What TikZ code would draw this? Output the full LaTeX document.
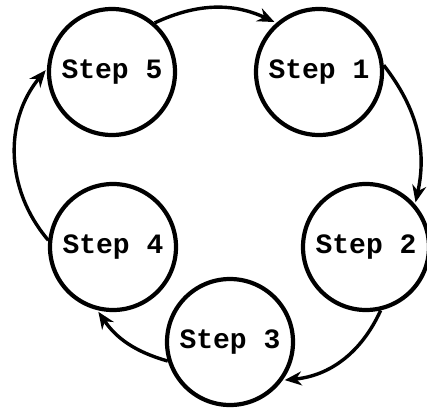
\documentclass[tikz,border=0pt]{standalone}
\usepackage{fontspec}
\setmonofont{Liberation Mono}
\usetikzlibrary{arrows.meta}
\tikzstyle{stepnode}=[circle, draw, line width=4.2pt, minimum size=126pt, inner sep=0pt, font=\fontsize{28}{30}\selectfont\ttfamily\bfseries]
\tikzset{flow/.style={line width=3.4pt, -{Stealth[length=17pt,width=14pt]}, shorten >=2pt}}

\begin{document}
\begin{tikzpicture}[x=1pt, y=1pt]
    \useasboundingbox (0,0) rectangle (427,408);
    \node[stepnode] (step5) at (112,336) {Step 5};
    \node[stepnode] (step1) at (319,336) {Step 1};
    \node[stepnode] (step2) at (366,161) {Step 2};
    \node[stepnode] (step3) at (230,66) {Step 3};
    \node[stepnode] (step4) at (113,161) {Step 4};
    \draw[flow] (step5.49) to[bend left=25] (step1.131);
    \draw[flow] (step1.6) to[bend left=25] (step2.41);
    \draw[flow] (step2.-77) to[bend left=30] (step3.-36);
    \draw[flow] (step3.197) to[bend left=20] (step4.256);
    \draw[flow] (step4.174) to[bend left=40] (step5.177);
\end{tikzpicture}
\end{document}
